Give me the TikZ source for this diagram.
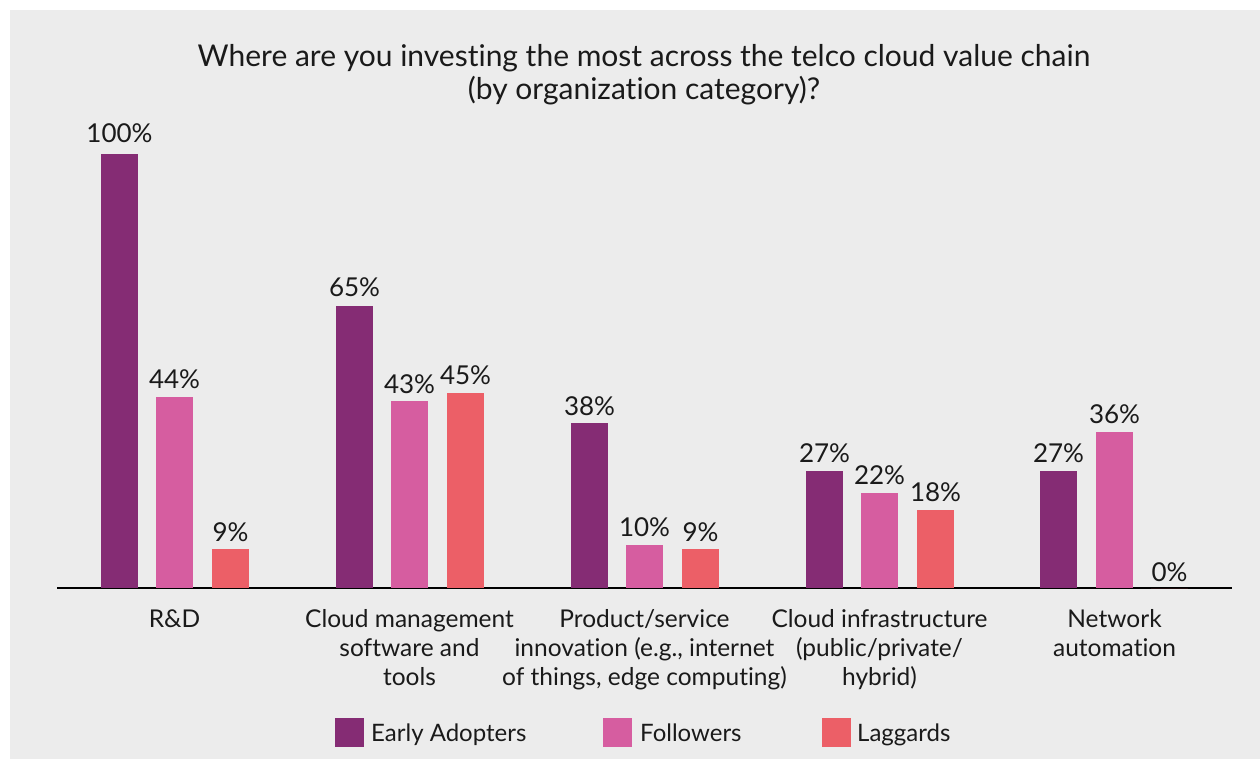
\documentclass[tikz,border=0pt]{standalone}
\usepackage{fontspec}
\setmainfont[Ligatures=NoCommon]{Lato}
\definecolor{bgc}{HTML}{ECECEC}
\definecolor{early}{HTML}{852C74}
\definecolor{follow}{HTML}{D65DA0}
\definecolor{lag}{HTML}{EC5F67}
\definecolor{txt}{HTML}{1A1A1A}
\tikzset{
  val/.style={font=\fontsize{26}{31}\selectfont, text=txt, inner sep=0pt, anchor=base},
  cat/.style={font=\fontsize{24.5}{29}\selectfont, text=txt, inner sep=0pt, anchor=base, align=center},
  ttl/.style={font=\fontsize{30}{33}\selectfont, text=txt, inner sep=0pt, anchor=base, align=center},
  legsq/.style={minimum size=29pt, inner sep=0pt, draw=none},
  legtxt/.style={font=\fontsize{24}{29}\selectfont, text=txt, inner sep=0pt, anchor=base west},
  axisline/.style={line width=1.2pt, draw=black}
}
\newcommand{\chartbar}[5]{%
  \fill[#4] (#2,588) rectangle ++(37,{-4.34*#3});
  \node[val] (#1) at ({#2+18.5},{588-4.34*#3-#5}) {#3\%};
}
\begin{document}
\begin{tikzpicture}[x=1pt,y=-1pt]
\useasboundingbox (0,0) rectangle (1260,759);
\fill[white] (0,0) rectangle (1260,759);
\fill[bgc] (10,10) rectangle (1260,759);

% multi-line nodes: anchor=base is the baseline of the last line
\node[ttl] (title) at (644,100) {Where are you investing the most across the telco cloud value chain\\(by organization category)?};

\coordinate (axL) at (57,588);
\coordinate (axR) at (1232,588);
\draw[axisline] (axL) -- (axR);

% R&D
\chartbar{v11}{101}{100}{early}{11}
\chartbar{v12}{156}{44}{follow}{9}
\chartbar{v13}{212}{9}{lag}{7}
% Cloud management
\chartbar{v21}{336}{65}{early}{9}
\chartbar{v22}{391}{43}{follow}{8}
\chartbar{v23}{447}{45}{lag}{8}
% Product/service
\chartbar{v31}{571}{38}{early}{8}
\chartbar{v32}{626}{10}{follow}{8}
\chartbar{v33}{682}{9}{lag}{7}
% Cloud infrastructure
\chartbar{v41}{806}{27}{early}{8}
\chartbar{v42}{861}{22}{follow}{8}
\chartbar{v43}{917}{18}{lag}{8}
% Network automation
\chartbar{v51}{1040}{27}{early}{8}
\chartbar{v52}{1096}{36}{follow}{8}
\chartbar{v53}{1151}{0}{lag}{7}

\node[cat] (c1) at (174.5,627) {R\&D};
\node[cat] (c2) at (409.5,685) {Cloud management\\software and\\tools};
\node[cat] (c3) at (644.5,685) {Product/service\\innovation (e.g., internet\\of things, edge computing)};
\node[cat] (c4) at (879.5,685) {Cloud infrastructure\\(public/private/\\hybrid)};
\node[cat] (c5) at (1114.5,656) {Network\\automation};

\node[legsq, fill=early] (l1) at (349.5,732.5) {};
\node[legtxt] (t1) at (371,741) {Early Adopters};
\node[legsq, fill=follow] (l2) at (617.5,732.5) {};
\node[legtxt] (t2) at (640,741) {Followers};
\node[legsq, fill=lag] (l3) at (836.5,732.5) {};
\node[legtxt] (t3) at (857,741) {Laggards};
\end{tikzpicture}
\end{document}
